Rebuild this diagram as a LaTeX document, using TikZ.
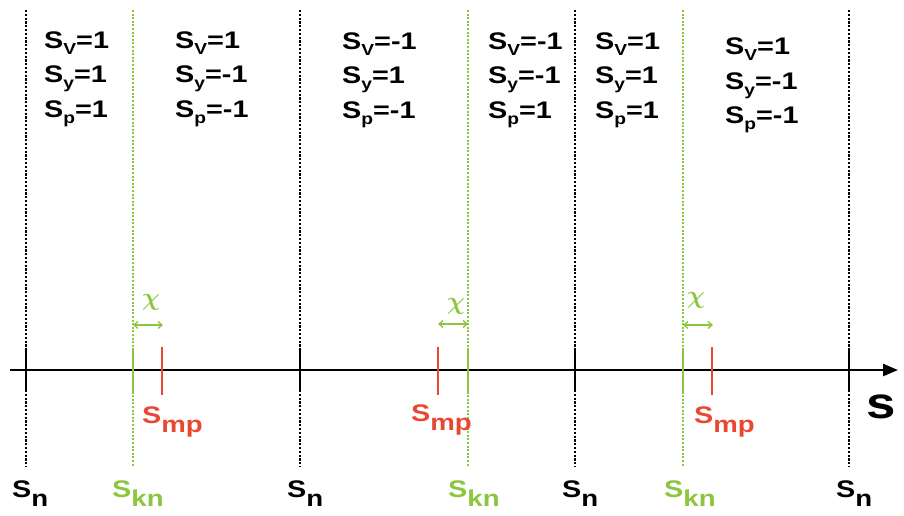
\documentclass[tikz,border=0pt]{standalone}
\usepackage{amsmath}
\usepackage{bm}
\usepackage{fontspec}
\setmainfont{Liberation Sans}[FakeStretch=1.2]
\usetikzlibrary{arrows.meta}
\definecolor{kgreen}{RGB}{140,198,63}
\definecolor{kred}{RGB}{232,72,50}
\newcommand\lsub[1]{\raisebox{-6pt}{\fontsize{16}{16}\selectfont #1}}
\newcommand\bsub[1]{\raisebox{-9pt}{\fontsize{23}{23}\selectfont #1}}
\begin{document}
\begin{tikzpicture}[x=1pt,y=-1pt,
  col/.style={font=\fontsize{24}{34.5}\selectfont\bfseries, inner sep=0pt, anchor=north west, align=left},
  lab/.style={font=\fontsize{24}{24}\selectfont\bfseries, inner sep=0pt, anchor=base west},
  blackdots/.style={draw=black, line width=2.5pt, dash pattern=on 2.2pt off 1.6pt},
  greendots/.style={draw=kgreen, line width=2.2pt, dash pattern=on 2pt off 1.6pt},
  blacktick/.style={draw=black, line width=2.5pt},
  greentick/.style={draw=kgreen, line width=2.5pt},
  redtick/.style={draw=kred, line width=2.5pt},
  chiarrow/.style={draw=kgreen, line width=1.3pt, {Straight Barb[length=4pt,width=7pt]}-{Straight Barb[length=4pt,width=7pt]}},
  chilab/.style={text=kgreen, font=\fontsize{24}{24}\selectfont, inner sep=0pt}
]
\useasboundingbox (0,0) rectangle (904,516);
% black dotted lines (S_n)
\foreach \n/\x in {a/26,b/300,c/575,d/849}{
  \coordinate (nt\n) at (\x,10);
  \coordinate (nb\n) at (\x,467);
  \draw[blackdots] (nt\n) -- (nb\n);
}
% green dotted lines (S_kn)
\foreach \n/\x in {a/133,b/468,c/683}{
  \coordinate (kt\n) at (\x,10);
  \coordinate (kb\n) at (\x,467);
  \draw[greendots] (kt\n) -- (kb\n);
}
% axis
\coordinate (ax0) at (10,370);
\coordinate (ax1) at (898,370);
\draw[line width=2.4pt, -{Triangle[length=15pt,width=12pt]}] (ax0) -- (ax1);
% ticks at S_n
\foreach \n/\x in {a/26,b/300,c/575,d/849}{
  \coordinate (ntu\n) at (\x,348);
  \coordinate (ntd\n) at (\x,392);
  \draw[blacktick] (ntu\n) -- (ntd\n);
}
% ticks at S_kn
\foreach \n/\x in {a/133,b/468,c/683}{
  \coordinate (ktu\n) at (\x,348);
  \coordinate (ktd\n) at (\x,392);
  \draw[greentick] (ktu\n) -- (ktd\n);
}
% ticks at S_mp
\foreach \n/\x in {a/162,b/438,c/712}{
  \coordinate (mtu\n) at (\x,347);
  \coordinate (mtd\n) at (\x,395);
  \draw[redtick] (mtu\n) -- (mtd\n);
}
% chi arrows
\coordinate (ca1) at (133,325); \coordinate (ca2) at (163,325);
\coordinate (cb1) at (438,324); \coordinate (cb2) at (468,324);
\coordinate (cc1) at (683,325); \coordinate (cc2) at (713,325);
\draw[chiarrow] (ca1) -- (ca2);
\draw[chiarrow] (cb1) -- (cb2);
\draw[chiarrow] (cc1) -- (cc2);
\node[chilab] (chia) at (151,302) {$\bm{\chi}$};
\node[chilab] (chib) at (456,306) {$\bm{\chi}$};
\node[chilab] (chic) at (696,300) {$\bm{\chi}$};
% top sign tables
\node[col] (t1) at (44,31.5) {S\lsub{V}=1\\S\lsub{y}=1\\S\lsub{p}=1};
\node[col] (t2) at (175,31.5) {S\lsub{V}=1\\S\lsub{y}=-1\\S\lsub{p}=-1};
\node[col] (t3) at (342,32.5) {S\lsub{V}=-1\\S\lsub{y}=1\\S\lsub{p}=-1};
\node[col] (t4) at (488,32.5) {S\lsub{V}=-1\\S\lsub{y}=-1\\S\lsub{p}=1};
\node[col] (t5) at (595,32.5) {S\lsub{V}=1\\S\lsub{y}=1\\S\lsub{p}=1};
\node[col] (t6) at (725,38) {S\lsub{V}=1\\S\lsub{y}=-1\\S\lsub{p}=-1};
% S_mp labels
\node[lab, text=kred] (mpa) at (142,423) {S\bsub{mp}};
\node[lab, text=kred] (mpb) at (411,421) {S\bsub{mp}};
\node[lab, text=kred] (mpc) at (694,423) {S\bsub{mp}};
% S_kn labels
\node[lab, text=kgreen] (kna) at (112,497) {S\bsub{kn}};
\node[lab, text=kgreen] (knb) at (448,497) {S\bsub{kn}};
\node[lab, text=kgreen] (knc) at (664,497) {S\bsub{kn}};
% S_n labels
\node[lab] (sna) at (12,497) {S\bsub{n}};
\node[lab] (snb) at (287,497) {S\bsub{n}};
\node[lab] (snc) at (562,497) {S\bsub{n}};
\node[lab] (snd) at (836,497) {S\bsub{n}};
% axis label
\node[lab, font=\fontsize{44}{44}\selectfont\bfseries] (s) at (866,418) {s};
\end{tikzpicture}
\end{document}
